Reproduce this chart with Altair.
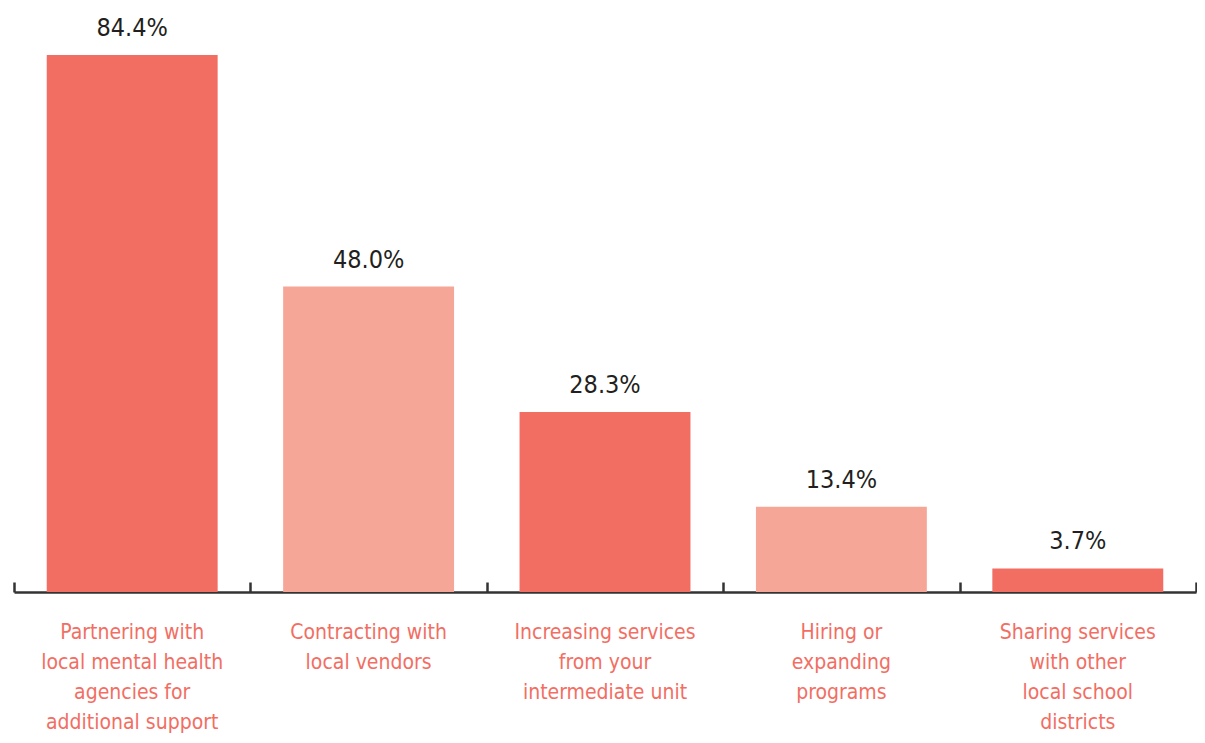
import altair as alt
import pandas as pd

categories = [
    "Partnering with|local mental health|agencies for|additional support",
    "Contracting with|local vendors",
    "Increasing services|from your|intermediate unit",
    "Hiring or|expanding|programs",
    "Sharing services|with other|local school|districts",
]
values = [84.4, 48.0, 28.3, 13.4, 3.7]
shades = ["dark", "light", "dark", "light", "dark"]

df = pd.DataFrame({"category": categories, "value": values, "shade": shades})

FONT = "DejaVu Sans Condensed, sans-serif"
DARK = "#F26E63"
LIGHT = "#F6A696"

xscale = alt.Scale(domain=categories, paddingInner=0, paddingOuter=0)
yscale = alt.Scale(domain=[0, 84.4], nice=False)

bars = alt.Chart(df).mark_bar(width=alt.RelativeBandSize(0.723)).encode(
    x=alt.X("category:N", sort=categories, scale=xscale, title=None,
            axis=alt.Axis(orient="bottom", domain=False, ticks=False, tickSize=0,
                          labelAngle=0, labelFont=FONT, labelFontSize=21,
                          labelColor=DARK, labelLineHeight=30,
                          labelBaseline="alphabetic", labelPadding=46,
                          labelLimit=1000, grid=False,
                          labelExpr="split(datum.label, '|')")),
    y=alt.Y("value:Q", scale=yscale, axis=None),
    color=alt.Color("shade:N", scale=alt.Scale(domain=["dark", "light"], range=[DARK, LIGHT]), legend=None),
)

text = alt.Chart(df).transform_calculate(
    lbl="format(datum.value, '.1f') + '%'"
).mark_text(baseline="alphabetic", dy=-19, font=FONT, fontSize=25, color="#231F20").encode(
    x=alt.X("category:N", sort=categories, scale=xscale, title=None,
            axis=alt.Axis(orient="top", offset=-537, domain=True, domainColor="#333333",
                          domainWidth=2.5, ticks=True, tickSize=10, tickWidth=2.5,
                          tickColor="#333333", tickBand="extent", labels=False, grid=False)),
    y=alt.Y("value:Q", scale=yscale, axis=None),
    text="lbl:N",
)

chart = alt.layer(bars, text).resolve_axis(x="independent").properties(
    width=1182, height=537,
    autosize=alt.AutoSizeParams(type="none"),
    padding={"left": 6, "top": 47, "right": 1, "bottom": 143},
).configure_view(stroke=None)

chart.save("out.html", embed_options={"renderer": "svg", "actions": False})
